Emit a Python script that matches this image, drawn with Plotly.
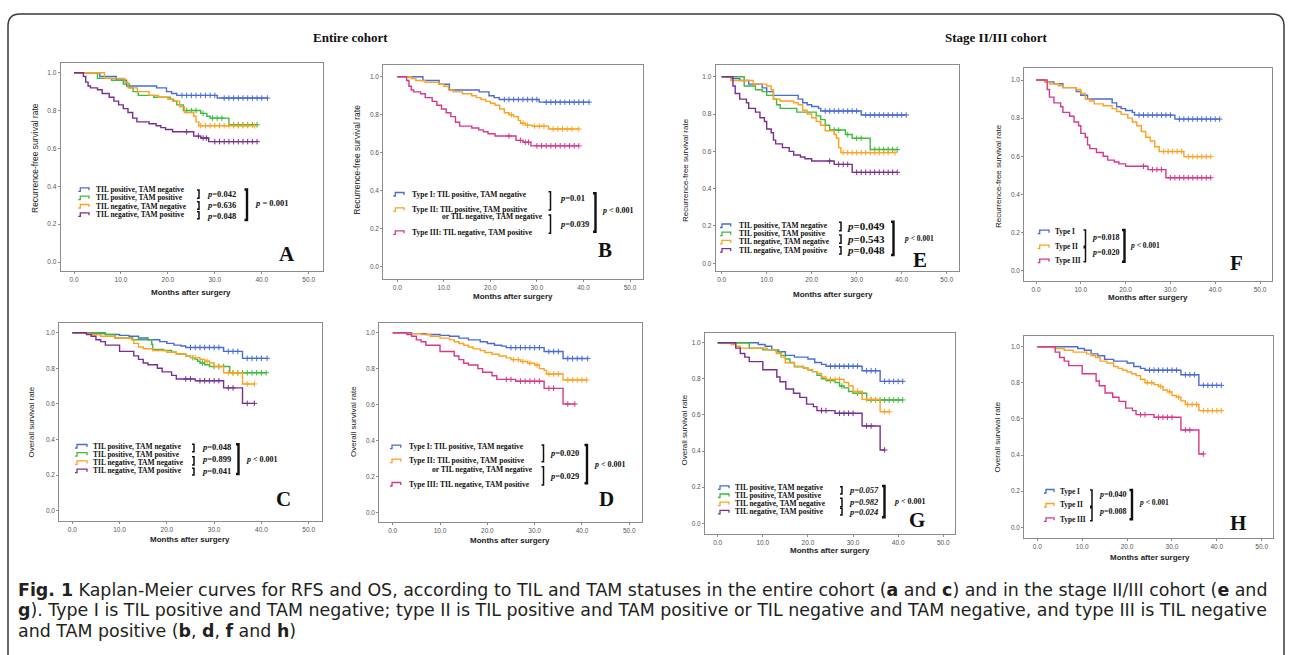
import numpy as np
import plotly.graph_objects as go

# ---------------- DATA ----------------
# Each curve: step times (months), survival after each step, censor times.
# Entire cohort - recurrence-free survival
rfs_all_I_t = [5.5, 9, 11.2, 17.6, 19.7, 20.8, 21.9, 30.5]
rfs_all_I_s = [0.98, 0.96, 0.93, 0.92, 0.90, 0.89, 0.88, 0.866]
rfs_all_I_c = [23, 24, 25, 26, 27, 28, 29, 30, 32, 33, 34, 35, 36, 37, 38, 39, 40, 41.2]

rfs_all_PP_t = [5, 8, 10.5, 11.8, 12.6, 13.7, 17, 20.5, 21.2, 21.9, 23.3, 27, 28.3, 29, 33]
rfs_all_PP_s = [0.97, 0.96, 0.94, 0.92, 0.90, 0.88, 0.87, 0.86, 0.85, 0.83, 0.80, 0.785, 0.77, 0.76, 0.725]
rfs_all_PP_c = [24, 25, 26, 27.5, 29.5, 30.5, 31.5, 34, 35, 36, 37, 38, 39]

rfs_all_NN_t = [6.5, 10.8, 11.5, 13.5, 16, 18, 20, 21, 22.5, 23.5, 25.5, 26, 26.6]
rfs_all_NN_s = [0.97, 0.95, 0.92, 0.90, 0.88, 0.87, 0.86, 0.85, 0.82, 0.79, 0.77, 0.74, 0.72]
rfs_all_NN_c = [27, 28, 29, 30, 31, 32, 33, 34, 35, 36, 37, 38.5]

rfs_all_III_t = [2, 2.5, 3, 3.5, 5, 6, 7.5, 8.5, 9.5, 10.5, 11.5, 12.5, 13.4, 16, 17.5, 18.5, 19.5, 21, 25.5, 27, 28.7]
rfs_all_III_s = [0.98, 0.95, 0.93, 0.92, 0.91, 0.89, 0.87, 0.85, 0.83, 0.81, 0.79, 0.76, 0.74, 0.73, 0.72, 0.71, 0.70, 0.688, 0.665, 0.655, 0.636]
rfs_all_III_c = [24, 26.5, 27.5, 28.2, 30, 31, 32, 33, 34, 35, 36, 37, 38, 39]

rfs_all_II_t = [3, 4, 6, 9, 10, 11, 12, 14, 16, 17, 18, 19, 20, 21, 22, 23, 24, 25, 26, 26.5, 27.5, 29, 32.5]
rfs_all_II_s = [0.99, 0.98, 0.97, 0.96, 0.95, 0.93, 0.92, 0.91, 0.90, 0.89, 0.88, 0.87, 0.86, 0.85, 0.83, 0.81, 0.80, 0.79, 0.77, 0.755, 0.745, 0.74, 0.725]
rfs_all_II_c = [24.5, 27, 28, 29.5, 30.5, 31.5, 33.5, 34.5, 35.5, 36.5, 37.5, 39]

# Entire cohort - overall survival
os_all_I_t = [4, 7, 10, 12, 14, 16, 18.5, 20, 21.5, 23, 24, 32, 36]
os_all_I_s = [0.995, 0.99, 0.985, 0.98, 0.97, 0.96, 0.95, 0.94, 0.93, 0.925, 0.917, 0.895, 0.856]
os_all_I_c = [25, 26, 27, 28, 29, 30, 31, 33, 34, 35, 37, 38, 39, 40, 41.2]

os_all_PP_t = [7, 9, 12.8, 16.8, 17, 19.3, 21, 22, 24, 25, 26, 26.5, 27, 28, 29, 33.3]
os_all_PP_s = [0.99, 0.97, 0.96, 0.935, 0.906, 0.90, 0.89, 0.88, 0.87, 0.86, 0.85, 0.84, 0.83, 0.82, 0.81, 0.775]
os_all_PP_c = [25.5, 27.5, 30, 31, 32, 34, 35, 36, 37, 38, 39, 40, 41]

os_all_NN_t = [3, 4, 6, 9, 12.5, 13, 14, 15, 17, 20, 22, 24, 25, 27, 28, 29, 30, 32, 36]
os_all_NN_s = [0.995, 0.99, 0.98, 0.97, 0.96, 0.94, 0.92, 0.91, 0.90, 0.89, 0.88, 0.87, 0.86, 0.85, 0.84, 0.83, 0.81, 0.775, 0.712]
os_all_NN_c = [26, 28.5, 31, 33, 34, 35, 37, 38.5]

os_all_III_t = [3, 4, 5, 6, 7, 10, 13, 14, 15, 16, 18, 19, 21, 22, 26, 32, 36]
os_all_III_s = [0.99, 0.98, 0.96, 0.95, 0.93, 0.895, 0.87, 0.85, 0.83, 0.82, 0.80, 0.78, 0.76, 0.74, 0.73, 0.69, 0.603]
os_all_III_c = [24, 25, 27, 28, 29, 30, 31, 33, 34, 37, 38.5]

os_all_II_t = [3, 6, 8, 10, 12, 13, 14, 15, 16, 17, 18.5, 19.5, 21, 22.5, 24, 25, 27, 28.5, 30, 31, 32, 32.5, 36]
os_all_II_s = [0.995, 0.99, 0.98, 0.97, 0.96, 0.95, 0.94, 0.93, 0.92, 0.91, 0.90, 0.89, 0.88, 0.87, 0.86, 0.85, 0.84, 0.83, 0.82, 0.80, 0.79, 0.77, 0.737]
os_all_II_c = [25.5, 26.5, 27.5, 29, 30.5, 33, 34, 35, 37, 38, 39, 40, 41]

# Stage II/III cohort - recurrence-free survival
rfs_st_I_t = [2, 4, 6, 9, 10, 11.5, 17, 18, 19, 20, 21.5, 22, 31]
rfs_st_I_s = [0.99, 0.98, 0.96, 0.94, 0.92, 0.90, 0.88, 0.86, 0.85, 0.84, 0.83, 0.816, 0.795]
rfs_st_I_c = [23, 24, 25, 26, 27, 28, 29, 30, 32, 33, 34, 35, 36, 37, 38, 39, 40, 41]

rfs_st_PP_t = [5, 7.5, 9, 10, 11.5, 12.2, 13, 16.7, 21, 22, 23, 24, 27.5, 29, 33]
rfs_st_PP_s = [0.95, 0.93, 0.92, 0.90, 0.88, 0.85, 0.83, 0.81, 0.79, 0.77, 0.74, 0.714, 0.69, 0.67, 0.61]
rfs_st_PP_c = [25, 26, 28, 30, 31, 34, 35, 36, 37, 38, 39]

rfs_st_NN_t = [2, 7, 10, 11, 11.5, 13, 16, 17, 18, 19, 20, 21, 22, 23, 25, 25.5, 26, 26.5]
rfs_st_NN_s = [0.98, 0.96, 0.95, 0.93, 0.88, 0.87, 0.86, 0.85, 0.82, 0.80, 0.78, 0.76, 0.74, 0.71, 0.69, 0.67, 0.62, 0.593]
rfs_st_NN_c = [27, 28, 29, 30, 31, 32, 33, 34, 35, 36, 37, 38.5]

rfs_st_III_t = [2.5, 3, 4, 5.5, 6, 7.5, 8.5, 9.5, 10, 11, 11.5, 12, 13.5, 15, 16, 17.5, 18.5, 20, 25, 29]
rfs_st_III_s = [0.95, 0.91, 0.88, 0.86, 0.83, 0.81, 0.78, 0.76, 0.72, 0.70, 0.66, 0.64, 0.62, 0.60, 0.58, 0.57, 0.56, 0.548, 0.53, 0.4875]
rfs_st_III_c = [24, 26, 27, 28, 30, 31, 32, 33, 34, 35, 36, 37, 38, 39]

rfs_st_II_t = [2, 3, 5, 6, 9, 10, 11, 12, 13, 15, 17, 18, 19, 20.5, 21.5, 22.5, 23.5, 24.5, 25.5, 26.5, 27.5, 33]
rfs_st_II_s = [0.99, 0.98, 0.97, 0.96, 0.95, 0.93, 0.90, 0.89, 0.875, 0.865, 0.85, 0.835, 0.82, 0.80, 0.78, 0.76, 0.73, 0.70, 0.68, 0.65, 0.625, 0.598]
rfs_st_II_c = [28.5, 29.5, 30.5, 31.5, 32.5, 34, 35, 36, 37, 38, 39]

# Stage II/III cohort - overall survival
os_st_I_t = [9, 10.5, 12, 13.5, 15, 17, 20, 21.5, 23, 24, 32, 36]
os_st_I_s = [0.99, 0.98, 0.96, 0.95, 0.93, 0.92, 0.91, 0.89, 0.88, 0.87, 0.845, 0.786]
os_st_I_c = [25, 26, 27, 28, 29, 30, 31, 33, 34, 35, 37, 38, 39, 40, 41]

os_st_PP_t = [7, 10, 13, 14, 15, 16, 17, 19, 20, 21, 22, 23, 24, 26, 27, 28, 29, 30, 33]
os_st_PP_s = [0.97, 0.96, 0.95, 0.93, 0.91, 0.89, 0.867, 0.86, 0.85, 0.84, 0.82, 0.80, 0.79, 0.78, 0.76, 0.75, 0.73, 0.72, 0.683]
os_st_PP_c = [25, 27.5, 31, 32, 34, 35, 36, 37, 38, 39, 40, 41]

os_st_NN_t = [3, 4, 5, 11, 13, 14, 15, 17, 19, 20, 21, 22, 23, 24, 28, 29, 30, 32, 36]
os_st_NN_s = [0.99, 0.98, 0.97, 0.96, 0.94, 0.92, 0.889, 0.87, 0.86, 0.85, 0.84, 0.83, 0.81, 0.797, 0.78, 0.76, 0.73, 0.686, 0.618]
os_st_NN_c = [25, 26, 27, 31, 33, 34, 35, 37, 38]

os_st_III_t = [4, 5, 6, 7, 10, 13.1, 13.8, 15.1, 16.8, 18.2, 19.7, 21.2, 22, 26, 32, 36]
os_st_III_s = [0.97, 0.94, 0.92, 0.895, 0.85, 0.81, 0.784, 0.744, 0.72, 0.697, 0.66, 0.646, 0.624, 0.609, 0.539, 0.406]
os_st_III_c = [23, 24, 27, 28, 29, 30, 33, 34, 37]

os_st_II_t = [3, 4, 6, 8, 11, 12, 13, 14, 15.5, 17, 18, 19, 20, 21, 22, 23, 24, 26, 27, 28, 29, 30, 31, 32, 33, 36]
os_st_II_s = [0.995, 0.99, 0.98, 0.97, 0.96, 0.95, 0.94, 0.92, 0.91, 0.89, 0.88, 0.87, 0.86, 0.85, 0.84, 0.82, 0.80, 0.79, 0.78, 0.76, 0.75, 0.73, 0.72, 0.70, 0.68, 0.646]
os_st_II_c = [24.5, 25.5, 27.5, 29.5, 31.5, 33.5, 34.5, 35.5, 37, 38, 39, 40, 41]

# Legend labels and p-values
lbl4 = ["TIL positive, TAM negative", "TIL positive, TAM positive",
        "TIL negative, TAM negative", "TIL negative, TAM positive"]
lbl_type_long = ["Type I: TIL positive, TAM negative", "Type II: TIL positive, TAM positive",
                 "Type III: TIL negative, TAM positive"]
lbl_type_or = "or TIL negative, TAM negative"
lbl_type_short = ["Type I", "Type II", "Type III"]
pv_A = ["0.042", "0.636", "0.048"]; pv_A_all = "= 0.001"
pv_B = ["0.01", "0.039"]; pv_B_all = "< 0.001"
pv_C = ["0.048", "0.899", "0.041"]; pv_C_all = "< 0.001"
pv_D = ["0.020", "0.029"]; pv_D_all = "< 0.001"
pv_E = ["0.049", "0.543", "0.048"]; pv_E_all = "< 0.001"
pv_F = ["0.018", "0.020"]; pv_F_all = "< 0.001"
pv_G = ["0.057", "0.982", "0.024"]; pv_G_all = "< 0.001"
pv_H = ["0.040", "0.008"]; pv_H_all = "< 0.001"
x_ticks = [0, 10, 20, 30, 40, 50]
y_ticks = [0.0, 0.2, 0.4, 0.6, 0.8, 1.0]
caption_lines = [
    "<b>Fig. 1</b> Kaplan-Meier curves for RFS and OS, according to TIL and TAM statuses in the entire cohort "
    "(<b>a</b> and <b>c</b>) and in the stage II/III cohort (<b>e</b> and",
    "<b>g</b>). Type I is TIL positive and TAM negative; type II is TIL positive and TAM positive or TIL negative "
    "and TAM negative, and type III is TIL negative",
    "and TAM positive (<b>b</b>, <b>d</b>, <b>f</b> and <b>h</b>)",
]

# ---------------- LAYOUT HELPERS ----------------
W, H = 1292, 655
def X(px): return px / W
def Y(py): return 1 - py / H

COL = dict(blue='#4a6bd4', green='#3dbb3d', orange='#ffa11f', purple='#7b2e90', pink='#d8388a')
SERIF = "Liberation Serif"
SANS = "Liberation Sans"

def curve(t, s, c):
    return dict(t=t, s=s, c=c)

C = {
    'rfs_all_I': curve(rfs_all_I_t, rfs_all_I_s, rfs_all_I_c),
    'rfs_all_PP': curve(rfs_all_PP_t, rfs_all_PP_s, rfs_all_PP_c),
    'rfs_all_NN': curve(rfs_all_NN_t, rfs_all_NN_s, rfs_all_NN_c),
    'rfs_all_III': curve(rfs_all_III_t, rfs_all_III_s, rfs_all_III_c),
    'rfs_all_II': curve(rfs_all_II_t, rfs_all_II_s, rfs_all_II_c),
    'os_all_I': curve(os_all_I_t, os_all_I_s, os_all_I_c),
    'os_all_PP': curve(os_all_PP_t, os_all_PP_s, os_all_PP_c),
    'os_all_NN': curve(os_all_NN_t, os_all_NN_s, os_all_NN_c),
    'os_all_III': curve(os_all_III_t, os_all_III_s, os_all_III_c),
    'os_all_II': curve(os_all_II_t, os_all_II_s, os_all_II_c),
    'rfs_st_I': curve(rfs_st_I_t, rfs_st_I_s, rfs_st_I_c),
    'rfs_st_PP': curve(rfs_st_PP_t, rfs_st_PP_s, rfs_st_PP_c),
    'rfs_st_NN': curve(rfs_st_NN_t, rfs_st_NN_s, rfs_st_NN_c),
    'rfs_st_III': curve(rfs_st_III_t, rfs_st_III_s, rfs_st_III_c),
    'rfs_st_II': curve(rfs_st_II_t, rfs_st_II_s, rfs_st_II_c),
    'os_st_I': curve(os_st_I_t, os_st_I_s, os_st_I_c),
    'os_st_PP': curve(os_st_PP_t, os_st_PP_s, os_st_PP_c),
    'os_st_NN': curve(os_st_NN_t, os_st_NN_s, os_st_NN_c),
    'os_st_III': curve(os_st_III_t, os_st_III_s, os_st_III_c),
    'os_st_II': curve(os_st_II_t, os_st_II_s, os_st_II_c),
}

RFS = "Recurrence-free survival rate"
OS = "Overall survival rate"

# frame (L,T,R,B) px ; calibration (px of x=0, px of x=50, py of y=1, py of y=0)
panels = [
    dict(L='A', frame=(60.7, 63, 322.7, 270.7), cal=(74, 308.7, 72.7, 262),
         curves=[('rfs_all_I', 'blue'), ('rfs_all_PP', 'green'), ('rfs_all_NN', 'orange'), ('rfs_all_III', 'purple')],
         ytitle=RFS, ypos=(35, 158), yfs=8.5, xpos=(191, 292.5), lpos=(287, 253.5), kind='four',
         rows=[189.3, 197.7, 206, 214.3], icon=(78.3, 90), tx=94, fs=7.5,
         pv=pv_A, pvx=205, pvy=[194, 205, 215.7], pfs=8.5, sbx=199, sb=[(190, 198.3), (201.7, 209.3), (211.7, 218.8)],
         pall=pv_A_all, pallxy=(253, 203), pallfs=8.5, bbx=247, bb=(189.5, 220), ital=False),
    dict(L='B', frame=(383.3, 65, 642.7, 279.3), cal=(397.3, 630, 76.7, 266.7),
         curves=[('rfs_all_I', 'blue'), ('rfs_all_II', 'orange'), ('rfs_all_III', 'pink')],
         ytitle=RFS, ypos=(356.7, 160), yfs=8.5, xpos=(513, 296.5), lpos=(605, 250), kind='long',
         rows=[194, 209.3, 232.3], orrow=216.9, orx=545, icon=(393.3, 405), tx=410, fs=7.6,
         pv=pv_B, pvx=558, pvy=[198.3, 224], pfs=8.5, sbx=550.5, sb=[(191.7, 210), (215, 233.3)],
         pall=pv_B_all, pallxy=(600, 210), pallfs=8, bbx=595.5, bb=(193.3, 231.7), ital=False),
    dict(L='C', frame=(59.3, 323.3, 321.7, 520.7), cal=(72.3, 308.7, 332.7, 510.7),
         curves=[('os_all_I', 'blue'), ('os_all_PP', 'green'), ('os_all_NN', 'orange'), ('os_all_III', 'purple')],
         ytitle=OS, ypos=(31.7, 421.7), yfs=8, xpos=(190, 539.3), lpos=(283, 499), kind='four',
         rows=[446, 454.2, 462.4, 470.7], icon=(75, 88), tx=90.7, fs=7.5,
         pv=pv_C, pvx=200, pvy=[447.3, 459.3, 470.7], pfs=8.5, sbx=194, sb=[(444.3, 451.7), (456.7, 465), (468.3, 475)],
         pall=pv_C_all, pallxy=(244, 459), pallfs=8, bbx=238.5, bb=(444.3, 474), ital=False),
    dict(L='D', frame=(379.3, 323.3, 641.7, 522.3), cal=(392.7, 629.3, 332.7, 512.3),
         curves=[('os_all_I', 'blue'), ('os_all_II', 'orange'), ('os_all_III', 'pink')],
         ytitle=OS, ypos=(353.3, 421.7), yfs=8, xpos=(510, 540.7), lpos=(606.7, 499), kind='long',
         rows=[446.7, 460.7, 484], orrow=469.5, orx=535, icon=(390, 401.7), tx=406.7, fs=7.6,
         pv=pv_D, pvx=548, pvy=[453.3, 475.7], pfs=8.5, sbx=543.5, sb=[(445, 461.7), (466.7, 485)],
         pall=pv_D_all, pallxy=(591.7, 464), pallfs=8, bbx=587, bb=(445, 483.3), ital=False),
    dict(L='E', frame=(715.7, 65, 958.7, 270.7), cal=(721.7, 946.7, 76.7, 263.3),
         curves=[('rfs_st_I', 'blue'), ('rfs_st_PP', 'green'), ('rfs_st_NN', 'orange'), ('rfs_st_III', 'purple')],
         ytitle=RFS, ypos=(685, 170), yfs=8, xpos=(833, 294), lpos=(920, 260), kind='four',
         rows=[225.5, 233.7, 241.9, 250.1], icon=(720, 731.7), tx=736.7, fs=7.5,
         pv=pv_E, pvx=845, pvy=[225.7, 239, 250], pfs=11, sbx=841, sb=[(222.3, 230.7), (235, 243.3), (246.7, 254)],
         pall=pv_E_all, pallxy=(902, 238), pallfs=7.5, bbx=893.5, bb=(221.7, 255), ital=False),
    dict(L='F', frame=(1024.3, 68.3, 1271.7, 280.7), cal=(1036, 1260, 80, 270.7),
         curves=[('rfs_st_I', 'blue'), ('rfs_st_II', 'orange'), ('rfs_st_III', 'pink')],
         ytitle=RFS, ypos=(999, 176), yfs=8, xpos=(1148, 297), lpos=(1236, 263), kind='short',
         rows=[231.7, 246.7, 260.7], icon=(1037.7, 1050), tx=1053.3, fs=7.3,
         pv=pv_F, pvx=1090, pvy=[237.7, 252.7], pfs=8, sbx=1085.5, sb=[(230, 246.2), (247.8, 261.7)],
         pall=pv_F_all, pallxy=(1128, 245), pallfs=7.5, bbx=1124.5, bb=(230, 261.7), ital=False),
    dict(L='G', frame=(705, 332.7, 955.3, 534), cal=(717.7, 943.3, 342.7, 523.3),
         curves=[('os_st_I', 'blue'), ('os_st_PP', 'green'), ('os_st_NN', 'orange'), ('os_st_III', 'purple')],
         ytitle=OS, ypos=(683.5, 430), yfs=8, xpos=(830, 550), lpos=(917, 520), kind='four',
         rows=[487.3, 495.5, 503.6, 511.8], icon=(718, 730), tx=733.3, fs=7.5,
         pv=pv_G, pvx=846.7, pvy=[490, 502.3, 511.7], pfs=8.5, sbx=842, sb=[(486.7, 494), (498.3, 506.7), (508.3, 515)],
         pall=pv_G_all, pallxy=(891.7, 501.7), pallfs=8, bbx=884.5, bb=(486, 517.3), ital=True),
    dict(L='H', frame=(1024.3, 336, 1273.3, 538.3), cal=(1037.3, 1261.7, 346.7, 527.3),
         curves=[('os_st_I', 'blue'), ('os_st_II', 'orange'), ('os_st_III', 'pink')],
         ytitle=OS, ypos=(997.7, 436.7), yfs=8, xpos=(1150, 557.3), lpos=(1238, 523), kind='short',
         rows=[491, 505, 519.3], icon=(1044, 1055), tx=1058.3, fs=7.3,
         pv=pv_H, pvx=1096.7, pvy=[494.3, 511.7], pfs=8, sbx=1092, sb=[(490, 506.2), (507.8, 520.7)],
         pall=pv_H_all, pallxy=(1136.7, 502.7), pallfs=7.5, bbx=1132, bb=(490, 519.3), ital=False),
]

def step_at(t, s, c):
    t = np.asarray(t, float); s = np.asarray(s, float); c = np.asarray(c, float)
    idx = np.searchsorted(t, c, side='right') - 1
    return np.where(idx >= 0, s[np.clip(idx, 0, None)], 1.0)

fig = go.Figure()
annotations = []
shapes = []

def txt(text, px, py, size, family=SERIF, xanchor='left', color='#111', angle=0):
    annotations.append(dict(text=text, x=X(px), y=Y(py), xref='paper', yref='paper',
                            showarrow=False, xanchor=xanchor, yanchor='middle', textangle=angle,
                            font=dict(family=family, size=size, color=color)))

def path(points, color, width):
    d = "M " + " L ".join(f"{X(a):.5f},{Y(b):.5f}" for a, b in points)
    shapes.append(dict(type='path', path=d, xref='paper', yref='paper',
                       line=dict(color=color, width=width)))

for i, p in enumerate(panels):
    n = i + 1
    L, T, R, B = p['frame']
    x0, x50, y1, y0 = p['cal']
    kx = (x50 - x0) / 50.0
    ky = (y0 - y1)
    xr = [(L - x0) / kx, (R - x0) / kx]
    yr = [(y0 - B) / ky, (y0 - T) / ky]
    axis_common = dict(showline=True, mirror=True, linecolor='#8c8c8c', linewidth=1,
                       showgrid=False, zeroline=False, ticks='outside', ticklen=2,
                       tickcolor='#8c8c8c', tickformat='.1f', automargin=False,
                       tickfont=dict(family=SANS, size=6.5, color='#555'))
    fig.layout[f'xaxis{n}'] = dict(domain=[X(L), X(R)], range=xr, anchor=f'y{n}',
                                   tickvals=x_ticks, **axis_common)
    fig.layout[f'yaxis{n}'] = dict(domain=[Y(B), Y(T)], range=yr, anchor=f'x{n}',
                                   tickvals=y_ticks, **axis_common)
    for key, col in p['curves']:
        cv = C[key]
        end = max(cv['c'])
        xs = [0] + list(cv['t']) + [end]
        ys = [1.0] + list(cv['s']) + [cv['s'][-1]]
        fig.add_trace(go.Scatter(x=xs, y=ys, mode='lines', line=dict(color=COL[col], width=1.4, shape='hv'),
                                 xaxis=f'x{n}', yaxis=f'y{n}', showlegend=False, hoverinfo='skip'))
        fig.add_trace(go.Scatter(x=cv['c'], y=step_at(cv['t'], cv['s'], cv['c']), mode='markers',
                                 marker=dict(symbol='cross-thin', size=4, color=COL[col],
                                             line=dict(color=COL[col], width=1)),
                                 xaxis=f'x{n}', yaxis=f'y{n}', showlegend=False, hoverinfo='skip'))
    # axis titles
    txt(p['ytitle'], p['ypos'][0], p['ypos'][1], p['yfs'], family=SANS, xanchor='center', color='#222', angle=-90)
    txt("<b>Months after surgery</b>", p['xpos'][0], p['xpos'][1], 8, family=SANS, xanchor='center', color='#222')
    # panel letter
    txt(f"<b>{p['L']}</b>", p['lpos'][0], p['lpos'][1], 21, family=SERIF, xanchor='center', color='#111')
    # legend
    if p['kind'] == 'four':
        labels = lbl4
    elif p['kind'] == 'long':
        labels = lbl_type_long
    else:
        labels = lbl_type_short
    ix0, ix1 = p['icon']
    for (key, col), lab, ry in zip(p['curves'], labels, p['rows']):
        path([(ix0, ry + 2), (ix0 + 2, ry + 2), (ix0 + 2, ry - 1.5), (ix1 - 1, ry - 1.5), (ix1 - 1, ry + 1)],
             COL[col], 1.3)
        txt(f"<b>{lab}</b>", p['tx'], ry, p['fs'])
    if p['kind'] == 'long':
        txt(f"<b>{lbl_type_or}</b>", p['orx'], p['orrow'], p['fs'], xanchor='right')
    # p-values
    for v, vy in zip(p['pv'], p['pvy']):
        if p['ital']:
            t_ = f"<b><i>p={v}</i></b>"
        else:
            t_ = f"<b><i>p</i>={v}</b>"
        txt(t_, p['pvx'], vy, p['pfs'])
    for (a, b) in p['sb']:
        bx = p['sbx']
        path([(bx - 2, a), (bx, a), (bx, b), (bx - 2, b)], '#111', 1.5)
    bx = p['bbx']; a, b = p['bb']
    path([(bx - 2.5, a), (bx, a), (bx, b), (bx - 2.5, b)], '#111', 2.4)
    txt(f"<b><i>p</i> {p['pall']}</b>", p['pallxy'][0], p['pallxy'][1], p['pallfs'])

# section headers
txt("<b>Entire cohort</b>", 351, 37, 13, family=SERIF, xanchor='center')
txt("<b>Stage II/III cohort</b>", 996, 37, 13, family=SERIF, xanchor='center')

# caption, one annotation per line
for line, ly in zip(caption_lines, [589.5, 610, 630.5]):
    txt(line, 16, ly, 17.4, family="DejaVu Sans", color='#231f20')

# outer rounded frame
r = 12
frame_path = (f"M {X(8)},{Y(700)} L {X(8)},{Y(14 + r)} Q {X(8)},{Y(14)} {X(8 + r)},{Y(14)} "
              f"L {X(1284 - r)},{Y(14)} Q {X(1284)},{Y(14)} {X(1284)},{Y(14 + r)} L {X(1284)},{Y(700)}")
shapes.append(dict(type='path', path=frame_path, xref='paper', yref='paper',
                   line=dict(color='#3a3a3a', width=1.5)))

fig.update_layout(width=W, height=H, margin=dict(l=0, r=0, t=0, b=0),
                  paper_bgcolor='white', plot_bgcolor='white',
                  annotations=annotations, shapes=shapes, showlegend=False)
fig.write_html("out.html", config={'displayModeBar': False},
               post_script="document.body.style.margin='0';document.body.style.overflow='hidden';")
